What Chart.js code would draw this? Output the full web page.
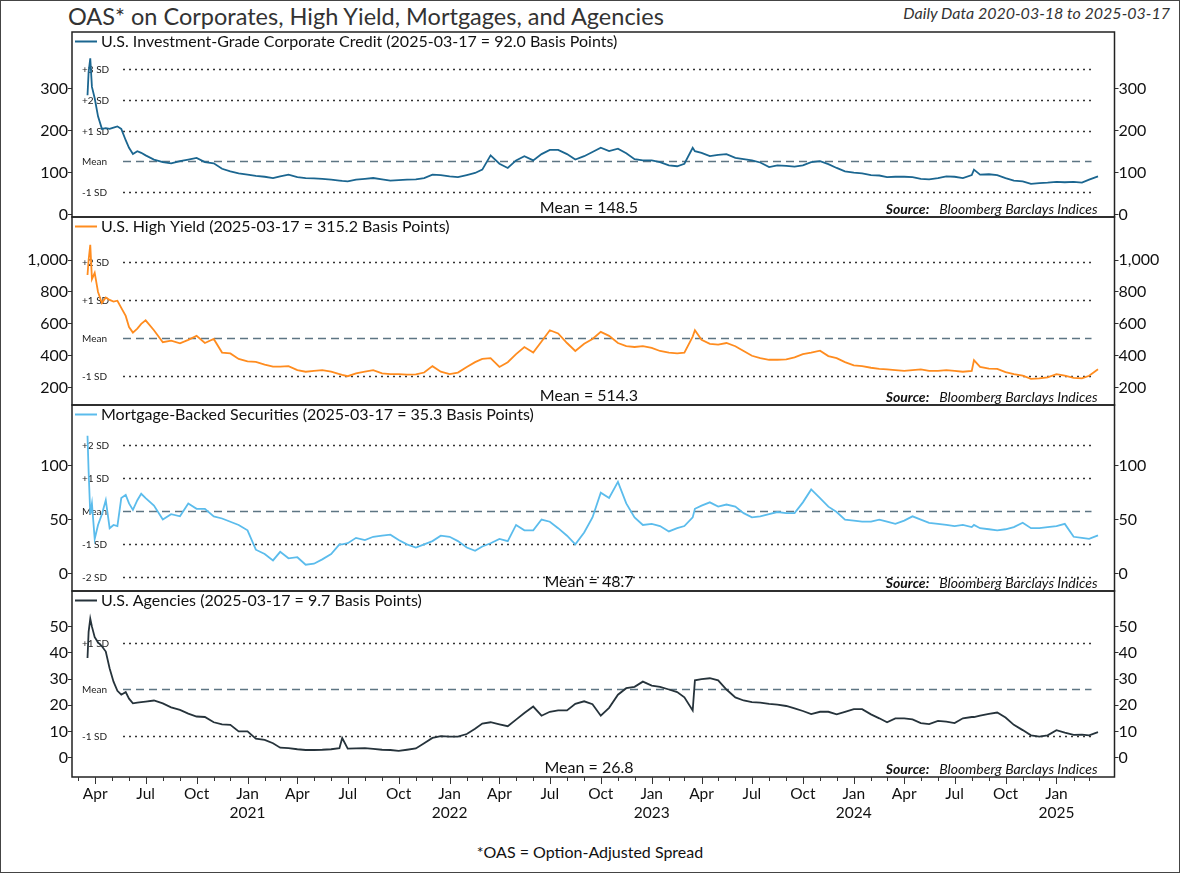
<!DOCTYPE html>
<html>
<head>
<meta charset="utf-8">
<script src="https://cdn.jsdelivr.net/npm/chart.js@4.4.1/dist/chart.umd.min.js"></script>
<style>
  html, body { margin: 0; padding: 0; background: #fff; }
  #wrap { position: relative; width: 1180px; height: 873px; overflow: hidden; font-family: Lato, "Open Sans", sans-serif; }
  #frame { position: absolute; left: 0; top: 0; width: 1178px; height: 871px; border: 1px solid #444; pointer-events: none; }
  canvas { position: absolute; left: 0; }
  .title { position: absolute; left: 68px; top: 2px; font-size: 23.5px; color: #333; white-space: nowrap; }
  .sub { position: absolute; right: 10px; top: 3px; font-size: 16px; font-style: italic; color: #333; white-space: nowrap; }
  .foot { position: absolute; left: 0; width: 1180px; text-align: center; top: 842px; font-size: 16px; color: #111; }
</style>
</head>
<body>
<div id="wrap">
  <div class="title">OAS* on Corporates, High Yield, Mortgages, and Agencies</div>
  <div class="sub">Daily Data 2020-03-18 to 2025-03-17</div>
  <canvas id="c1" width="1180" height="193" style="top:28px"></canvas>
  <canvas id="c2" width="1180" height="196" style="top:213px"></canvas>
  <canvas id="c3" width="1180" height="194" style="top:401px"></canvas>
  <canvas id="c4" width="1180" height="240" style="top:587px"></canvas>
  <div class="foot">*OAS = Option-Adjusted Spread</div>
  <div id="frame"></div>
</div>
<script>
// ---------------- DATA ----------------
const dates = [
  '2020-03-18','2020-03-20','2020-03-23','2020-03-26','2020-03-31','2020-04-06','2020-04-13','2020-04-20','2020-04-27',
  '2020-05-04','2020-05-11','2020-05-18','2020-05-26','2020-06-01','2020-06-08','2020-06-16','2020-06-23','2020-07-01',
  '2020-07-16','2020-08-01','2020-08-16','2020-09-01','2020-09-16','2020-10-01','2020-10-16','2020-11-01','2020-11-16',
  '2020-12-01','2020-12-16',
  '2021-01-01','2021-01-16','2021-02-01','2021-02-16','2021-03-01','2021-03-16','2021-04-01','2021-04-16','2021-05-01',
  '2021-05-16','2021-06-01','2021-06-16','2021-06-21','2021-07-01','2021-07-16','2021-08-01','2021-08-16','2021-09-01',
  '2021-09-16','2021-10-01','2021-10-16','2021-11-01','2021-11-16','2021-12-01','2021-12-16',
  '2022-01-01','2022-01-16','2022-02-01','2022-02-16','2022-03-01','2022-03-16','2022-04-01','2022-04-16','2022-05-01',
  '2022-05-16','2022-06-01','2022-06-16','2022-07-01','2022-07-16','2022-08-01','2022-08-16','2022-09-01','2022-09-16',
  '2022-10-01','2022-10-16','2022-11-01','2022-11-16','2022-12-01','2022-12-16',
  '2023-01-01','2023-01-16','2023-02-01','2023-02-16','2023-03-01','2023-03-16','2023-03-20','2023-04-01','2023-04-16',
  '2023-05-01','2023-05-16','2023-06-01','2023-06-16','2023-07-01','2023-07-16','2023-08-01','2023-08-16','2023-09-01',
  '2023-09-16','2023-10-01','2023-10-16','2023-11-01','2023-11-16','2023-12-01','2023-12-16',
  '2024-01-01','2024-01-16','2024-02-01','2024-02-16','2024-03-01','2024-03-16','2024-04-01','2024-04-16','2024-05-01',
  '2024-05-16','2024-06-01','2024-06-16','2024-07-01','2024-07-16','2024-08-01','2024-08-05','2024-08-16','2024-09-01',
  '2024-09-16','2024-10-01','2024-10-16','2024-11-01','2024-11-16','2024-12-01','2024-12-16',
  '2025-01-01','2025-01-16','2025-02-01','2025-02-16','2025-03-01','2025-03-17'
];

const igSpread = [
  285,340,373,305,278,235,205,207,205,208,211,205,178,160,145,152,148,142,132,126,123,128,132,136,126,123,110,104,99,
  96,93,91,88,92,96,90,88,87,86,84,82,81,80,84,86,88,85,82,83,84,85,88,96,95,
  92,90,95,100,108,142,122,112,130,140,130,145,155,155,145,132,140,150,160,152,158,147,133,130,
  130,126,118,116,122,160,152,148,140,143,145,136,133,130,125,114,118,117,115,118,126,128,121,112,104,
  101,99,95,94,90,91,91,90,86,85,88,92,91,88,95,108,96,97,95,88,82,80,74,76,77,
  79,78,79,77,84,92
];

const hySpread = [
  906,1000,1095,880,920,800,730,765,750,740,745,700,650,580,545,570,600,622,560,485,495,478,500,525,480,505,420,415,380,
  365,362,345,332,332,335,310,300,305,310,300,285,280,272,290,300,310,290,285,285,282,283,295,335,300,
  285,295,330,360,380,385,330,360,410,455,420,490,560,540,480,430,475,505,550,525,480,460,455,460,
  450,430,420,415,420,520,560,500,475,470,480,460,430,400,385,375,375,378,390,410,420,432,398,385,360,
  340,335,325,318,315,310,305,310,315,305,305,310,305,300,305,372,330,320,318,298,285,275,255,258,265,
  285,275,262,258,275,315.2
];

const mbsSpread = [
  128,95,55,65,32,45,55,68,42,45,44,70,73,65,59,68,74,70,63,50,55,53,65,60,60,53,51,48,45,
  40,22,18,12,20,14,15,8,9,13,18,27,27,28,33,31,34,35,36,31,27,24,27,30,35,
  34,30,24,21,25,28,32,30,45,40,40,50,48,42,35,27,38,52,75,70,85,65,52,45,
  46,44,39,42,44,52,60,63,66,62,64,62,56,52,53,55,57,56,56,66,78,70,62,57,50,
  49,48,48,50,48,46,49,53,50,47,46,45,44,45,43,45,42,41,40,41,43,47,42,42,43,
  44,46,34,33,32,35.3
];

const agencySpread = [
  38,48,53,50,46,44,42.5,40.5,34,29,25.5,24,25,22.5,20.7,21,21.2,21.4,21.8,20.7,19.2,18.2,16.8,15.7,15.5,13.5,12.7,12.5,10,
  10,7.2,6.8,5.5,3.8,3.6,3.2,2.9,2.9,3.0,3.2,3.6,7.5,3.4,3.5,3.6,3.3,3.0,2.9,2.6,3.0,3.5,5.5,7.5,8.2,
  8,8,9,11,13,13.5,12.7,12,14.5,17,19.5,16,17.5,18,18,20.5,21.5,20.4,16,19,24,26.5,27,29,
  27.5,27,26,25,23,18,29.5,30,30.3,29.5,26,23,21.8,21.2,21,20.5,20.2,19.7,18.8,17.8,16.6,17.5,17.5,16.5,17.5,
  18.5,18.5,16.5,15,13.5,15,15,14.6,13.2,12.8,14,13.7,13.2,15,15.5,15.5,16,16.7,17.2,15.3,12.5,10.5,8.5,8,8.5,
  10.5,9.5,8.7,8.8,8.5,9.7
];

// Series labels
const seriesLabels = [
  'U.S. Investment-Grade Corporate Credit (2025-03-17 = 92.0 Basis Points)',
  'U.S. High Yield (2025-03-17 = 315.2 Basis Points)',
  'Mortgage-Backed Securities (2025-03-17 = 35.3 Basis Points)',
  'U.S. Agencies (2025-03-17 = 9.7 Basis Points)'
];
const meanLabels = ['Mean = 148.5', 'Mean = 514.3', 'Mean = 48.7', 'Mean = 26.8'];
// Reference (mean / standard deviation) lines as drawn in the picture
const refMeans = [128, 514.3, 57.6, 26.1];
const refSds = [73, 238, 30.7, 17.7];
const refLevels = [[3, 2, 1, 0, -1], [2, 1, 0, -1], [2, 1, 0, -1, -2], [1, 0, -1]];
// Y tick labels
const igTicks = [0, 100, 200, 300];
const hyTicks = [200, 400, 600, 800, 1000];
const mbsTicks = [0, 50, 100];
const agencyTicks = [0, 10, 20, 30, 40, 50];
// Axis ranges
const yRanges = [[-4.8, 435.7], [91.6, 1269.5], [-16.4, 156.5], [-7.4, 63.6]];
const monthNames = ['Jan','Feb','Mar','Apr','May','Jun','Jul','Aug','Sep','Oct','Nov','Dec'];
const sourceText = 'Bloomberg Barclays Indices';

// ---------------- BUILD ----------------
Chart.defaults.font.family = 'Lato, "Open Sans", sans-serif';
const DAY = 86400000;
const toMs = s => { const p = s.split('-').map(Number); return Date.UTC(p[0], p[1] - 1, p[2]); };
const xs = dates.map(toMs);
const xMin = xs[0] - 28 * DAY;
const xMax = xs[xs.length - 1] + 29.8 * DAY;
const lastTick = xs[xs.length - 1];

const monthTicks = [];
for (let y = 2020; y <= 2025; y++) {
  for (let m = 0; m < 12; m++) {
    const t = Date.UTC(y, m, 1);
    if (t >= xMin && t <= lastTick) monthTicks.push(t);
  }
}

const panels = [
  { id: 'c1', values: igSpread, color: '#1b6690', ticks: igTicks, xAxis: false },
  { id: 'c2', values: hySpread, color: '#ff8c1f', ticks: hyTicks, xAxis: false },
  { id: 'c3', values: mbsSpread, color: '#5bbcec', ticks: mbsTicks, xAxis: false },
  { id: 'c4', values: agencySpread, color: '#26333b', ticks: agencyTicks, xAxis: true }
];

function levelName(l) {
  if (l === 0) return 'Mean';
  return (l > 0 ? '+' : '-') + Math.abs(l) + ' SD';
}

const annotPlugin = {
  id: 'annot',
  beforeDatasetsDraw(chart) {
    const i = chart.options.plugins.annot.index;
    const ca = chart.chartArea;
    const ys = chart.scales.y;
    const ctx = chart.ctx;
    ctx.save();
    const x0 = ca.left + 51, x1 = ca.right - 23;
    refLevels[i].forEach(l => {
      const v = refMeans[i] + l * refSds[i];
      const py = Math.round(ys.getPixelForValue(v)) + 0.5;
      ctx.beginPath();
      if (l === 0) {
        ctx.setLineDash([8, 5]);
        ctx.strokeStyle = '#5d7583';
        ctx.lineWidth = 1.6;
      } else {
        ctx.setLineDash([2, 4]);
        ctx.strokeStyle = '#333';
        ctx.lineWidth = 1.3;
      }
      ctx.moveTo(x0, py); ctx.lineTo(x1, py); ctx.stroke();
      ctx.setLineDash([]);
      ctx.fillStyle = '#222';
      ctx.font = '10px Lato, sans-serif';
      ctx.textAlign = 'left';
      ctx.textBaseline = 'middle';
      ctx.fillText(levelName(l), ca.left + 10, py);
    });
    ctx.restore();
  },
  afterDatasetsDraw(chart) {
    const i = chart.options.plugins.annot.index;
    const ca = chart.chartArea;
    const ctx = chart.ctx;
    ctx.save();
    // legend
    const ly = ca.top + 9.5;
    ctx.strokeStyle = panels[i].color;
    ctx.lineWidth = 2;
    ctx.beginPath(); ctx.moveTo(ca.left + 3, ly); ctx.lineTo(ca.left + 25, ly); ctx.stroke();
    ctx.fillStyle = '#111';
    ctx.font = '16px Lato, sans-serif';
    ctx.textAlign = 'left';
    ctx.textBaseline = 'middle';
    ctx.fillText(seriesLabels[i], ca.left + 29, ly);
    // mean label
    ctx.textAlign = 'center';
    ctx.fillText(meanLabels[i], 589, ca.bottom - 9);
    // source
    ctx.textAlign = 'right';
    ctx.font = 'italic 14px Lato, sans-serif';
    const sx = ca.right - 17;
    ctx.fillText(sourceText, sx, ca.bottom - 8);
    const w = ctx.measureText(sourceText).width;
    ctx.font = 'italic bold 14px Lato, sans-serif';
    ctx.fillText('Source:', sx - w - 10, ca.bottom - 8);
    // box
    ctx.strokeStyle = '#222';
    ctx.lineWidth = 1.5;
    ctx.strokeRect(ca.left, ca.top, ca.right - ca.left, ca.bottom - ca.top);
    // month tick marks (longer at quarters)
    if (panels[i].xAxis) {
      const xsc = chart.scales.x;
      ctx.strokeStyle = '#333';
      ctx.lineWidth = 1;
      monthTicks.forEach(t => {
        const px = Math.round(xsc.getPixelForValue(t)) + 0.5;
        const m = new Date(t).getUTCMonth();
        const len = (m % 3 === 0) ? 7 : 4;
        ctx.beginPath(); ctx.moveTo(px, ca.bottom); ctx.lineTo(px, ca.bottom + len); ctx.stroke();
      });
    }
    ctx.restore();
  }
};

panels.forEach((p, i) => {
  const yCommon = (pos, w) => ({
    position: pos,
    min: yRanges[i][0],
    max: yRanges[i][1],
    afterBuildTicks: s => { s.ticks = p.ticks.map(v => ({ value: v })); },
    afterFit: s => { s.width = w; s.paddingTop = 0; s.paddingBottom = 0; },
    border: { display: false },
    grid: { drawOnChartArea: false, drawTicks: true, tickLength: 4, color: '#333' },
    ticks: {
      padding: 0,
      color: '#111',
      font: { size: 16 },
      callback: v => v.toLocaleString('en-US')
    }
  });
  new Chart(document.getElementById(p.id), {
    type: 'line',
    data: {
      datasets: [{
        data: xs.map((x, k) => ({ x: x, y: p.values[k] })),
        borderColor: p.color,
        borderWidth: 1.8,
        pointRadius: 0,
        tension: 0,
        fill: false
      }]
    },
    options: {
      responsive: false,
      animation: false,
      layout: { padding: { top: 4, bottom: p.xAxis ? 0 : 4, left: 0, right: 0 } },
      plugins: { legend: { display: false }, tooltip: { enabled: false }, annot: { index: i } },
      scales: {
        x: {
          type: 'linear',
          display: p.xAxis,
          min: xMin,
          max: xMax,
          afterBuildTicks: s => { s.ticks = monthTicks.map(v => ({ value: v })); },
          afterFit: s => { s.height = p.xAxis ? 50 : 0; s.paddingLeft = 0; s.paddingRight = 0; },
          border: { display: false },
          grid: { display: true, drawOnChartArea: false, drawTicks: false },
          ticks: {
            autoSkip: false, maxRotation: 0, minRotation: 0, padding: 8,
            color: '#111', font: { size: 15.5 },
            callback: v => {
              const d = new Date(v);
              const m = d.getUTCMonth();
              if (m === 0) return ['Jan', String(d.getUTCFullYear())];
              if (m % 3 === 0) return monthNames[m];
              return '';
            }
          }
        },
        y: yCommon('left', 72),
        y2: yCommon('right', 65.5)
      }
    },
    plugins: [annotPlugin]
  });
});
</script>
</body>
</html>
